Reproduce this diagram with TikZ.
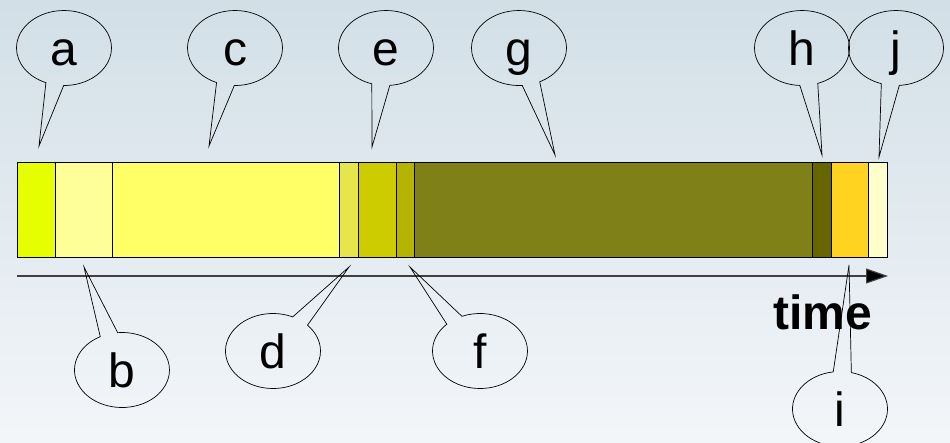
\documentclass[tikz,border=0pt]{standalone}
\usepackage{fontspec}
\setmainfont{Liberation Sans}
\usetikzlibrary{shapes.callouts,arrows.meta}
\definecolor{bgtop}{RGB}{210,223,231}
\definecolor{bgbot}{RGB}{243,246,249}
\definecolor{sA}{HTML}{E5FF00}
\definecolor{sB}{HTML}{FFFF99}
\definecolor{sC}{HTML}{FFFF66}
\definecolor{sD}{HTML}{E6E64C}
\definecolor{sE}{HTML}{CCCC00}
\definecolor{sF}{HTML}{B3B300}
\definecolor{sG}{HTML}{808019}
\definecolor{sH}{HTML}{666600}
\definecolor{sI}{HTML}{FFD320}
\definecolor{sJ}{HTML}{FFFFCC}
\begin{document}
\begin{tikzpicture}[x=1pt,y=-1pt,
  seg/.style={draw=black,line width=0.9pt},
  bubble/.style={ellipse callout,draw=black,line width=0.7pt,
    minimum width=95pt,minimum height=75pt,inner sep=0pt,
    callout pointer arc=22,
    font=\fontsize{48}{50}\selectfont,text height=34pt,text depth=0pt},
  axis/.style={draw=black!75,line width=1.2pt,-{Triangle[length=22pt,width=15pt,fill=black]}},
  timelabel/.style={font=\fontsize{48}{50}\selectfont\bfseries,text height=33pt,text depth=0pt,inner sep=0pt}
]
\useasboundingbox (0,0) rectangle (950,442);
\fill[top color=bgtop,bottom color=bgbot] (0,0) rectangle (950,442);

% bar segments
\path[seg,fill=sA] (17,162) rectangle (55,257);
\path[seg,fill=sB] (55,162) rectangle (112,257);
\path[seg,fill=sC] (112,162) rectangle (339,257);
\path[seg,fill=sD] (339,162) rectangle (358,257);
\path[seg,fill=sE] (358,162) rectangle (396,257);
\path[seg,fill=sF] (396,162) rectangle (414,257);
\path[seg,fill=sG] (414,162) rectangle (812,257);
\path[seg,fill=sH] (812,162) rectangle (831,257);
\path[seg,fill=sI] (831,162) rectangle (868,257);
\path[seg,fill=sJ] (868,162) rectangle (887,257);

% time axis
\coordinate (axs) at (17,276);
\coordinate (axe) at (888,276);
\draw[axis] (axs) -- (axe);
\node[timelabel] (time) at (823,313) {time};

% pointer tips
\coordinate (ta) at (39,146);
\coordinate (tc) at (209,146);
\coordinate (te) at (372,147);
\coordinate (tg) at (555,155);
\coordinate (th) at (822,155);
\coordinate (tj) at (879,157);
\coordinate (tb) at (84,267);
\coordinate (td) at (349,267);
\coordinate (tf) at (410,267);
\coordinate (ti) at (849,265);

% callouts
\node[bubble,callout absolute pointer={(ta)}] (a) at (64,48) {a};
\node[bubble,callout absolute pointer={(tc)}] (c) at (235,48) {c};
\node[bubble,callout absolute pointer={(te)}] (e) at (386,48) {e};
\node[bubble,callout absolute pointer={(tg)}] (g) at (519,48) {g};
\node[bubble,callout absolute pointer={(th)}] (h) at (802,48) {h};
\node[bubble,callout absolute pointer={(tj)}] (j) at (896,48) {j};
\node[bubble,callout absolute pointer={(tb)}] (b) at (122,370) {b};
\node[bubble,callout absolute pointer={(td)}] (d) at (273,351) {d};
\node[bubble,callout absolute pointer={(tf)}] (f) at (480,351) {f};
\node[bubble,callout absolute pointer={(ti)}] (i) at (840,409) {i};
\end{tikzpicture}
\end{document}
